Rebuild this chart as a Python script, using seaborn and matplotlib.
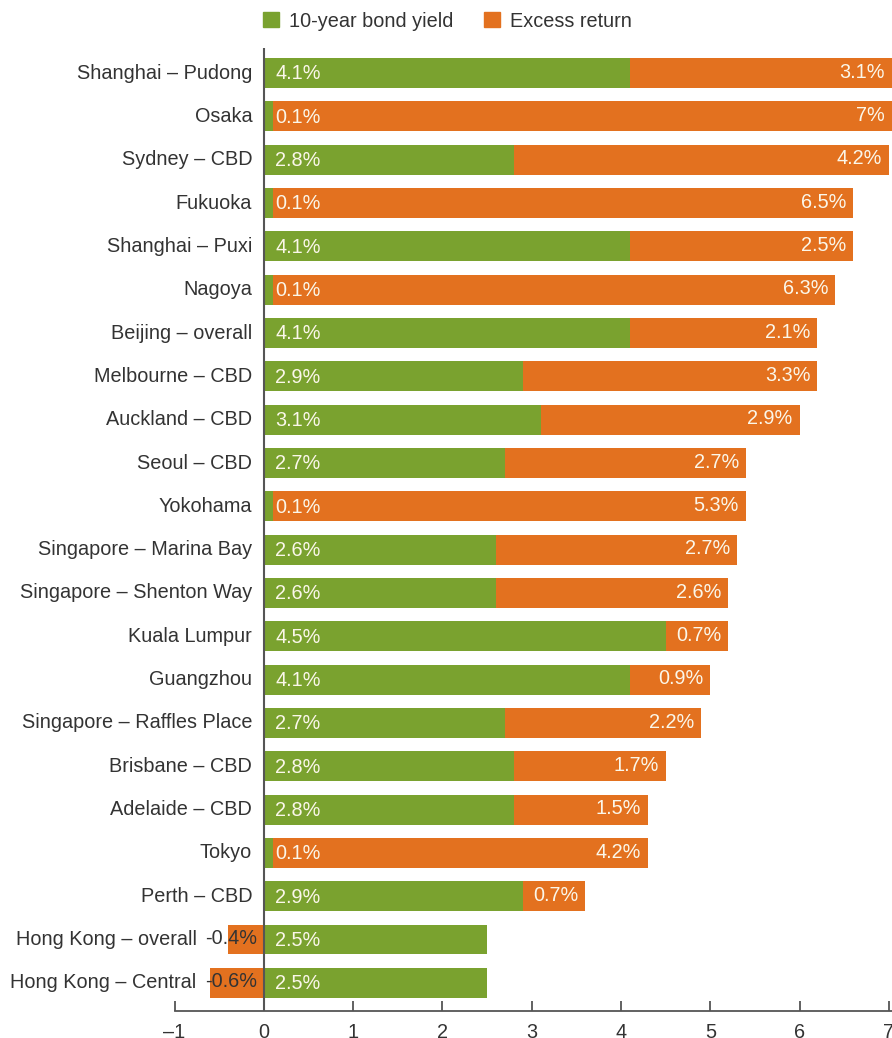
import numpy as np
import pandas as pd
import matplotlib
matplotlib.use("Agg")
import matplotlib.pyplot as plt
from matplotlib.patches import Patch
import seaborn as sns

# Chart data
cities = ["Shanghai – Pudong", "Osaka", "Sydney – CBD", "Fukuoka", "Shanghai – Puxi",
          "Nagoya", "Beijing – overall", "Melbourne – CBD", "Auckland – CBD", "Seoul – CBD",
          "Yokohama", "Singapore – Marina Bay", "Singapore – Shenton Way", "Kuala Lumpur",
          "Guangzhou", "Singapore – Raffles Place", "Brisbane – CBD", "Adelaide – CBD",
          "Tokyo", "Perth – CBD", "Hong Kong – overall", "Hong Kong – Central"]
bond_yield = [4.1, 0.1, 2.8, 0.1, 4.1, 0.1, 4.1, 2.9, 3.1, 2.7, 0.1, 2.6, 2.6, 4.5,
              4.1, 2.7, 2.8, 2.8, 0.1, 2.9, 2.5, 2.5]
excess_return = [3.1, 7, 4.2, 6.5, 2.5, 6.3, 2.1, 3.3, 2.9, 2.7, 5.3, 2.7, 2.6, 0.7,
                 0.9, 2.2, 1.7, 1.5, 4.2, 0.7, -0.4, -0.6]
x_ticks = [-1, 0, 1, 2, 3, 4, 5, 6, 7]

GREEN = "#7aa22f"
ORANGE = "#e3711f"
TEXT = "#333333"
LABEL = "#fbf7ea"
FS = 14.3

sns.set_theme(style="white")
plt.rcParams["font.family"] = ["Liberation Sans", "DejaVu Sans"]
plt.rcParams["font.size"] = FS

df = pd.DataFrame({"city": cities, "bond": bond_yield, "excess": excess_return})
# orange bar runs from 0 to the total, or from 0 leftwards when excess is negative
df["orange_end"] = np.where(df["excess"] > 0, df["bond"] + df["excess"], df["excess"])

fig = plt.figure(figsize=(8.92, 10.38), dpi=100)
left_px = 174.5
ax = fig.add_axes([left_px / 892, 1 - 1011 / 1038, 1 - left_px / 892, (1011 - 48) / 1038])

sns.barplot(data=df, x="orange_end", y="city", color=ORANGE, width=0.69,
            saturation=1, ax=ax, orient="h", linewidth=0, edgecolor="none")
sns.barplot(data=df, x="bond", y="city", color=GREEN, width=0.69,
            saturation=1, ax=ax, orient="h", linewidth=0, edgecolor="none")

xmax = (892 - left_px) / 89.3 - 1
ax.set_xlim(-1, xmax)
ax.set_ylim(len(cities) - 1 + 0.65, -0.58)

fig.canvas.draw()
renderer = fig.canvas.get_renderer()
px = ax.transData.inverted()

for i, row in df.iterrows():
    ax.text(0.13, i + 0.02, f"{row['bond']:g}%", ha="left", va="center",
            color=LABEL, fontsize=FS)
    end = min(max(row["orange_end"], 0), xmax)
    neg = row["excess"] < 0
    val = ax.text(end - 0.08, i - 0.02, f"{row['excess']:g}%", ha="right", va="center",
                  color=TEXT if neg else LABEL, fontsize=FS)
    # city name sits left of the zero line, or left of a negative value label
    name_x = -0.13
    if neg:
        bb = val.get_window_extent(renderer)
        name_x = px.transform((bb.x0 - 8, 0))[0]
    ax.text(name_x, i, row["city"], ha="right", va="center", color=TEXT, fontsize=FS)

ax.axvline(0, color="#555555", lw=1.5, zorder=5)

ax.set_xticks(x_ticks)
ax.set_xticklabels([str(t).replace("-", "–") for t in x_ticks])
ax.set_yticks([])
ax.set_xlabel("")
ax.set_ylabel("")
for s in ["top", "right", "left"]:
    ax.spines[s].set_visible(False)
ax.spines["bottom"].set_color("#555555")
ax.spines["bottom"].set_linewidth(1.3)
ax.tick_params(axis="x", bottom=True, direction="in", length=7, width=1.3,
               color="#555555", labelcolor=TEXT, labelsize=FS, pad=9)

handles = [Patch(color=GREEN, label="10-year bond yield"),
           Patch(color=ORANGE, label="Excess return")]
fig.legend(handles=handles, loc="upper center", bbox_to_anchor=(0.502, 1.006),
           ncol=2, frameon=False, handlelength=0.8, handleheight=0.8,
           handletextpad=0.5, columnspacing=1.55, fontsize=FS, labelcolor=TEXT)

fig.savefig("out.png", dpi=100)
